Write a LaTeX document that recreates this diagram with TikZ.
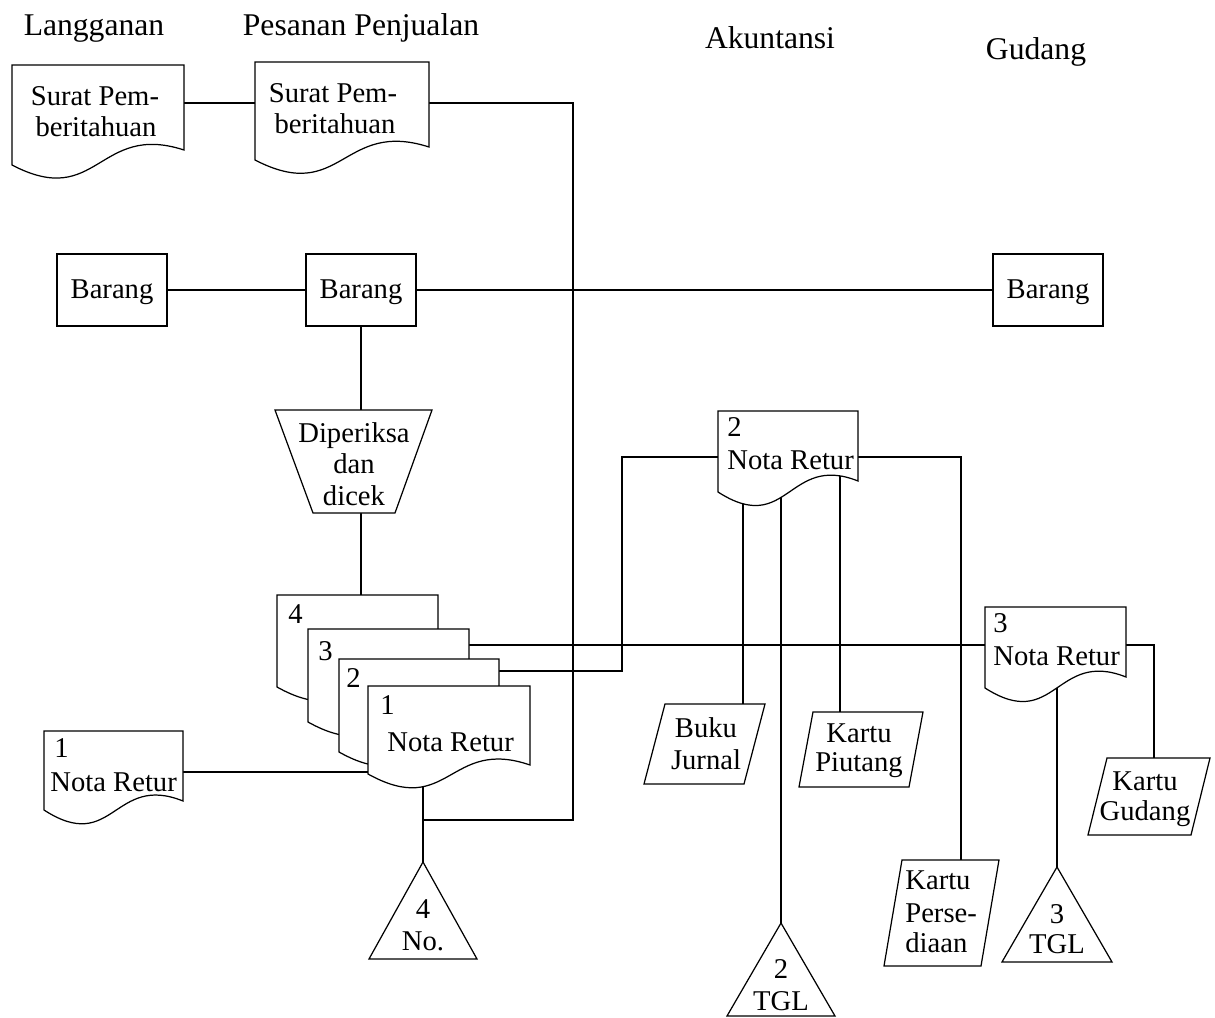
\documentclass[tikz,border=0pt]{standalone}
\usepackage{fontspec}
\setmainfont{Liberation Serif}
\usetikzlibrary{fit}
\pgfdeclarelayer{bg}
\pgfsetlayers{bg,main}

\tikzset{
  shp/.style={draw=black, line width=0.7pt, fill=white, line join=miter},
  conn/.style={draw=black, line width=0.6pt},
  txt/.style={inner sep=0pt, anchor=base, font=\fontsize{16.3}{17.7}\selectfont},
  txtl/.style={txt, anchor=base west},
  hdr/.style={inner sep=0pt, anchor=base, font=\fontsize{18}{20}\selectfont},
  frame/.style={inner sep=0pt, draw=none}
}

% document symbol: name, left x, top y, right x, bottom y (left), bottom y (right)
\newcommand{\docshape}[6]{%
  \draw[shp] (#2,#5) -- (#2,#3) -- (#4,#3) -- (#4,#6)
    .. controls ({(#2+#4)/2},{#6-28}) and ({(#2+#4)/2},{#5+45}) .. (#2,#5) -- cycle;
  \node[frame, fit={(#2,#3) (#4,#5)}] (#1) {};
}
% slanted record symbol: name, top-left x, top y, top-right x, bottom y, slant
\newcommand{\parashape}[6]{%
  \draw[shp] (#2,#3) -- (#4,#3) -- ({#4-#6},#5) -- ({#2-#6},#5) -- cycle;
  \node[frame, fit={(#2,#3) ({#2-#6},#5) (#4,#3)}] (#1) {};
}
% file symbol: name, apex x, apex y, base y, half base width
\newcommand{\trishape}[5]{%
  \draw[shp] (#2,#3) -- ({#2+#5},#4) -- ({#2-#5},#4) -- cycle;
  \node[frame, fit={(#2,#3) ({#2+#5},#4) ({#2-#5},#4)}] (#1) {};
}

\begin{document}
\begin{tikzpicture}[x=0.02cm, y=-0.02cm]
\useasboundingbox (0,0) rectangle (1215,1018);

% column headings
\node[hdr] (hLang) at (94,35) {Langganan};
\node[hdr] (hPes) at (361,35) {Pesanan Penjualan};
\node[hdr] (hAku) at (770,48) {Akuntansi};
\node[hdr] (hGud) at (1036,59) {Gudang};

% notification letters
\docshape{sp1}{12}{65}{184}{165}{150}
\node[txt] (sp1a) at (95,105) {Surat Pem-};
\node[txt] (sp1b) at (96,136) {beritahuan};
\docshape{sp2}{255}{62}{429}{160}{147}
\node[txt] (sp2a) at (333,102) {Surat Pem-};
\node[txt] (sp2b) at (335,133) {beritahuan};

% goods
\node[shp, frame, draw, fit={(57,254) (167,326)}] (bl) {};
\node[txt] (blt) at (112,298) {Barang};
\node[shp, frame, draw, fit={(306,254) (416,326)}] (bm) {};
\node[txt] (bmt) at (361,298) {Barang};
\node[shp, frame, draw, fit={(993,254) (1103,326)}] (br) {};
\node[txt] (brt) at (1048,298) {Barang};

% manual check
\draw[shp] (275,410) -- (432,410) -- (395,513) -- (313,513) -- cycle;
\node[frame, fit={(275,410) (432,513)}] (chk) {};
\node[txt] (chka) at (354,442) {Diperiksa};
\node[txt] (chkb) at (354,473) {dan};
\node[txt] (chkc) at (354,505) {dicek};

% return note, four copies
\docshape{nr4}{277}{595}{438}{687}{679}
\node[txtl] (nr4t) at (288,623) {4};
\docshape{nr3}{308}{629}{469}{722}{714}
\node[txtl] (nr3t) at (318,660) {3};
\docshape{nr2}{339}{659}{499}{752}{744}
\node[txtl] (nr2t) at (346,687) {2};
\docshape{nr1}{368}{686}{530}{774}{765}
\node[txtl] (nr1t) at (380,714) {1};
\node[txtl] (nr1n) at (387,751) {Nota Retur};

% copy 1 to the customer
\docshape{ln1}{44}{731}{183}{810}{801}
\node[txtl] (ln1t) at (54,757) {1};
\node[txtl] (ln1n) at (50,791) {Nota Retur};

% file by number
\trishape{t4}{423}{862}{959}{54}
\node[txt] (t4a) at (423,918) {4};
\node[txt] (t4b) at (423,950) {No.};

% accounting
\docshape{ak2}{718}{411}{858}{492}{481}
\node[txtl] (ak2t) at (727,436) {2};
\node[txtl] (ak2n) at (727,469) {Nota Retur};
\parashape{bj}{665}{704}{765}{784}{21}
\node[txt] (bja) at (706,737) {Buku};
\node[txt] (bjb) at (706,769) {Jurnal};
\parashape{kpi}{813}{712}{923}{787}{14}
\node[txt] (kpia) at (859,742) {Kartu};
\node[txt] (kpib) at (859,771) {Piutang};
\parashape{kp}{902}{860}{999}{966}{18}
\node[txtl] (kpa) at (905,889) {Kartu};
\node[txtl] (kpb) at (905,922) {Perse-};
\node[txtl] (kpc) at (905,952) {diaan};
\trishape{t2}{781}{923}{1016}{54}
\node[txt] (t2a) at (781,978) {2};
\node[txt] (t2b) at (781,1010) {TGL};

% warehouse
\docshape{gd3}{985}{607}{1126}{688}{677}
\node[txtl] (gd3t) at (993,632) {3};
\node[txtl] (gd3n) at (993,665) {Nota Retur};
\parashape{kg}{1107}{758}{1210}{835}{19}
\node[txt] (kga) at (1145,790) {Kartu};
\node[txt] (kgb) at (1145,820) {Gudang};
\trishape{t3}{1057}{867}{962}{55}
\node[txt] (t3a) at (1057,923) {3};
\node[txt] (t3b) at (1057,953) {TGL};

\coordinate (j1) at (423,820);

% flow lines
\begin{pgfonlayer}{bg}
\draw[conn] (sp1.east |- 0,103) -- (sp2.west |- 0,103);
\draw[conn] (sp2.east |- 0,103) -- (573,103) -- (573,820) -- (j1);
\draw[conn] (bl.east) -- (bm.west);
\draw[conn] (bm.east) -- (br.west);
\draw[conn] (bm.south) -- (bm.south |- chk.north);
\draw[conn] (bm.south |- chk.south) -- (bm.south |- nr4.north);
\draw[conn] (nr3.east |- 0,645) -- (gd3.west |- 0,645);
\draw[conn] (nr2.east |- 0,671) -- (622,671) -- (622,457) -- (ak2.west |- 0,457);
\draw[conn] (ln1.east |- 0,772) -- (nr1.west |- 0,772);
\draw[conn] (nr1.center -| 423,0) -- (t4.north);
\draw[conn] (ak2.east |- 0,457) -- (961,457) -- (kp.north -| 961,0);
\draw[conn] (ak2.center -| 743,0) -- (bj.north -| 743,0);
\draw[conn] (ak2.center -| 781,0) -- (t2.north);
\draw[conn] (ak2.center -| 840,0) -- (kpi.north -| 840,0);
\draw[conn] (gd3.east |- 0,645) -- (1154,645) -- (kg.north -| 1154,0);
\draw[conn] (gd3.center -| 1057,0) -- (t3.north);
\end{pgfonlayer}
\end{tikzpicture}
\end{document}
